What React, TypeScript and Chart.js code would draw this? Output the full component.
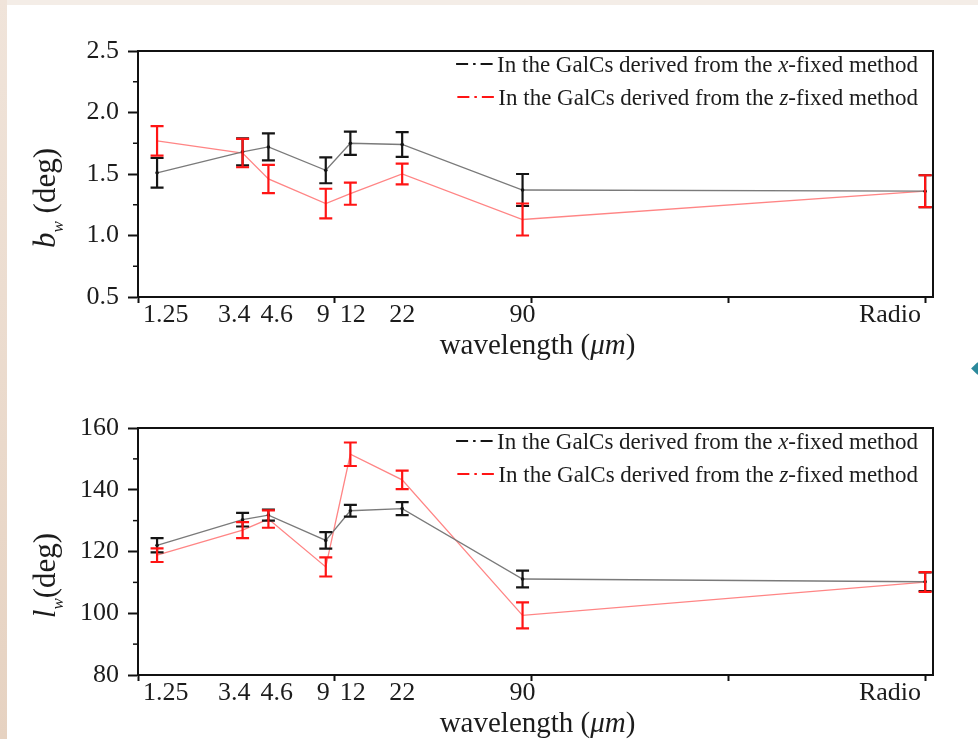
import React, { useEffect, useRef } from "react";
import { Chart, registerables } from "chart.js";

Chart.register(...registerables);

// ---------------- data ----------------
const wavelengthLabels = ["1.25", "3.4", "4.6", "9", "12", "22", "90", "Radio"];
const wavelengthsUm = [1.25, 3.4, 4.6, 9, 12, 22, 90];
const radioLogPosition = 4; // Radio placed at log10(λ/μm) = 4
const xMajorTicks = [0, 1, 2, 3, 4];
const xAxisMax = 4.04;

// b_w panel
const bwTicks = [0.5, 1.0, 1.5, 2.0, 2.5];
const bwXFixed = [1.51, 1.68, 1.72, 1.53, 1.75, 1.74, 1.37, 1.36];
const bwXFixedErr = [0.12, 0.11, 0.11, 0.105, 0.095, 0.1, 0.13, 0.13];
const bwZFixed = [1.77, 1.67, 1.46, 1.26, 1.34, 1.5, 1.13, 1.36];
const bwZFixedErr = [0.12, 0.115, 0.115, 0.12, 0.09, 0.085, 0.13, 0.13];

// l_w panel
const lwTicks = [80, 100, 120, 140, 160];
const lwXFixed = [122.0, 130.3, 131.8, 123.6, 133.2, 133.9, 111.1, 110.2];
const lwXFixedErr = [2.3, 2.2, 1.8, 2.7, 1.9, 2.1, 2.7, 3.0];
const lwZFixed = [118.8, 126.9, 130.5, 115.0, 151.5, 143.2, 99.3, 110.1];
const lwZFixedErr = [2.2, 2.6, 2.8, 3.1, 3.8, 3.0, 4.2, 3.2];

const legendXFixed = ["In the GalCs derived from the ", "x", "-fixed method"];
const legendZFixed = ["In the GalCs derived from the ", "z", "-fixed method"];

// ---------------- styling ----------------
const SERIF = "'Liberation Serif', 'Times New Roman', serif";
const TEXT = "#1c1c1c";
const AXIS = "#111111";
const W = 978;
const PLOT_LEFT = 138;
const PLOT_RIGHT = 933;

type Run = { text: string; italic?: boolean; size: number; dy?: number };

function fontOf(r: Run) {
  return `${r.italic ? "italic " : ""}${r.size}px ${SERIF}`;
}
function runsWidth(ctx: CanvasRenderingContext2D, runs: Run[]) {
  let w = 0;
  for (const r of runs) {
    ctx.font = fontOf(r);
    w += ctx.measureText(r.text).width;
  }
  return w;
}
function drawRuns(ctx: CanvasRenderingContext2D, runs: Run[], x: number, y: number) {
  let cx = x;
  ctx.textAlign = "left";
  ctx.textBaseline = "alphabetic";
  for (const r of runs) {
    ctx.font = fontOf(r);
    ctx.fillText(r.text, cx, y + (r.dy || 0));
    cx += ctx.measureText(r.text).width;
  }
}

type Series = {
  values: number[];
  errors: number[];
  lineColor: string;
  barColor: string;
  pointRadius: number;
  legend: string[];
};

type Spec = {
  yTicks: number[];
  yFormat: (v: number) => string;
  series: Series[];
  yTitle: Run[];
  plotTop: number;
  plotBottom: number;
  canvasHeight: number;
};

const xPositions = [...wavelengthsUm.map((w) => Math.log10(w)), radioLogPosition];

function decorPlugin(spec: Spec) {
  return {
    id: "decor",
    afterDatasetsDraw(chart: any) {
      const ctx: CanvasRenderingContext2D = chart.ctx;
      const ys = chart.scales.y;
      spec.series.forEach((s, di) => {
        const meta = chart.getDatasetMeta(di);
        ctx.save();
        ctx.strokeStyle = s.barColor;
        ctx.lineWidth = 2.2;
        meta.data.forEach((pt: any, i: number) => {
          const v = s.values[i];
          const e = s.errors[i];
          const yt = ys.getPixelForValue(v + e);
          const yb = ys.getPixelForValue(v - e);
          const x = pt.x;
          ctx.beginPath();
          ctx.moveTo(x, yt);
          ctx.lineTo(x, yb);
          ctx.moveTo(x - 6.5, yt);
          ctx.lineTo(x + 6.5, yt);
          ctx.moveTo(x - 6.5, yb);
          ctx.lineTo(x + 6.5, yb);
          ctx.stroke();
        });
        ctx.restore();
      });
    },
    afterDraw(chart: any) {
      const ctx: CanvasRenderingContext2D = chart.ctx;
      const ca = chart.chartArea;
      const xs = chart.scales.x;
      const ys = chart.scales.y;
      ctx.save();
      // frame
      ctx.strokeStyle = AXIS;
      ctx.lineWidth = 2;
      ctx.strokeRect(ca.left, ca.top, ca.right - ca.left, ca.bottom - ca.top);
      // minor y ticks
      ctx.lineWidth = 1.5;
      for (let i = 0; i < spec.yTicks.length - 1; i++) {
        const m = (spec.yTicks[i] + spec.yTicks[i + 1]) / 2;
        const py = ys.getPixelForValue(m);
        ctx.beginPath();
        ctx.moveTo(ca.left - 5, py);
        ctx.lineTo(ca.left, py);
        ctx.stroke();
      }
      // x tick labels (centered on the points, pushed apart when they collide)
      ctx.fillStyle = TEXT;
      ctx.font = `26px ${SERIF}`;
      const items = wavelengthLabels.map((lab, i) => {
        const w = ctx.measureText(lab).width;
        return { lab, w, c: xs.getPixelForValue(xPositions[i]) };
      });
      const gap = 10;
      for (let iter = 0; iter < 5; iter++) {
        for (let i = 0; i < items.length - 1; i++) {
          const a = items[i], b = items[i + 1];
          const need = (a.w + b.w) / 2 + gap;
          const d = b.c - a.c;
          if (d < need) {
            const push = (need - d) / 2;
            a.c -= push;
            b.c += push;
          }
        }
      }
      items.forEach((it) => {
        let lx = it.c - it.w / 2;
        if (lx < ca.left + 5) lx = ca.left + 5;
        if (lx + it.w > ca.right - 12) lx = ca.right - 12 - it.w;
        ctx.textAlign = "left";
        ctx.textBaseline = "alphabetic";
        ctx.fillText(it.lab, lx, ca.bottom + 25);
      });
      // x title
      const xTitle: Run[] = [
        { text: "wavelength (", size: 29 },
        { text: "μm", size: 29, italic: true },
        { text: ")", size: 29 },
      ];
      const wx = runsWidth(ctx, xTitle);
      drawRuns(ctx, xTitle, (ca.left + ca.right) / 2 - wx / 2 + 2, ca.bottom + 57);
      // y title
      ctx.save();
      ctx.translate(55, (ca.top + ca.bottom) / 2 + 24);
      ctx.rotate(-Math.PI / 2);
      const wy = runsWidth(ctx, spec.yTitle);
      drawRuns(ctx, spec.yTitle, -wy / 2, 0);
      ctx.restore();
      // legend
      spec.series.forEach((s, i) => {
        const rowY = ca.top + 13 + i * 33;
        const runs: Run[] = [
          { text: s.legend[0], size: 23 },
          { text: s.legend[1], size: 23, italic: true },
          { text: s.legend[2], size: 23 },
        ];
        const w = runsWidth(ctx, runs);
        const tx = ca.right - 15 - w;
        ctx.fillStyle = TEXT;
        drawRuns(ctx, runs, tx, rowY + 8);
        ctx.strokeStyle = s.barColor;
        ctx.lineWidth = 2;
        ctx.setLineDash([12, 5, 2.5, 5]);
        ctx.beginPath();
        ctx.moveTo(tx - 41, rowY);
        ctx.lineTo(tx - 4, rowY);
        ctx.stroke();
        ctx.setLineDash([]);
      });
      ctx.restore();
    },
  };
}

function buildConfig(spec: Spec): any {
  return {
    type: "line",
    data: {
      datasets: spec.series.map((s) => ({
        data: xPositions.map((x, i) => ({ x, y: s.values[i] })),
        borderColor: s.lineColor,
        borderWidth: 1.3,
        pointRadius: s.pointRadius,
        pointBackgroundColor: s.barColor,
        pointBorderWidth: 0,
        tension: 0,
        fill: false,
      })),
    },
    options: {
      responsive: false,
      animation: false,
      events: [],
      layout: { padding: { left: 0, top: spec.plotTop, right: W - PLOT_RIGHT, bottom: 0 } },
      plugins: { legend: { display: false }, tooltip: { enabled: false } },
      scales: {
        x: {
          type: "linear",
          min: 0,
          max: xAxisMax,
          afterBuildTicks: (s: any) => {
            s.ticks = xMajorTicks.map((v) => ({ value: v }));
          },
          afterFit: (s: any) => {
            s.height = spec.canvasHeight - spec.plotBottom;
          },
          ticks: { display: false },
          grid: { drawOnChartArea: false, drawTicks: true, tickLength: 6, tickWidth: 2, tickColor: AXIS },
          border: { display: true, color: AXIS, width: 2 },
        },
        y: {
          type: "linear",
          min: spec.yTicks[0],
          max: spec.yTicks[spec.yTicks.length - 1],
          afterBuildTicks: (s: any) => {
            s.ticks = spec.yTicks.map((v) => ({ value: v }));
          },
          afterFit: (s: any) => {
            s.width = PLOT_LEFT;
          },
          ticks: {
            font: { family: SERIF, size: 26 },
            color: TEXT,
            padding: 9,
            callback: (v: number) => spec.yFormat(v),
          },
          grid: { drawOnChartArea: false, tickLength: 10, tickWidth: 2, tickColor: AXIS },
          border: { display: true, color: AXIS, width: 2 },
        },
      },
    },
    plugins: [decorPlugin(spec)],
  };
}

function Panel({ spec, top }: { spec: Spec; top: number }) {
  const ref = useRef<HTMLCanvasElement>(null);
  useEffect(() => {
    const chart = new Chart(ref.current as HTMLCanvasElement, buildConfig(spec));
    return () => chart.destroy();
  }, []);
  return (
    <canvas
      ref={ref}
      width={W}
      height={spec.canvasHeight}
      style={{ position: "absolute", left: 0, top, width: W, height: spec.canvasHeight }}
    />
  );
}

const blackSeries = (values: number[], errors: number[]): Series => ({
  values,
  errors,
  lineColor: "#7a7a7a",
  barColor: "#151515",
  pointRadius: 1.8,
  legend: legendXFixed,
});
const redSeries = (values: number[], errors: number[]): Series => ({
  values,
  errors,
  lineColor: "#ff8585",
  barColor: "#ff1414",
  pointRadius: 0,
  legend: legendZFixed,
});

const bwSpec: Spec = {
  yTicks: bwTicks,
  yFormat: (v) => v.toFixed(1),
  series: [blackSeries(bwXFixed, bwXFixedErr), redSeries(bwZFixed, bwZFixedErr)],
  yTitle: [
    { text: "b", size: 31, italic: true },
    { text: "w", size: 17, italic: true, dy: 8 },
    { text: " (deg)", size: 31 },
  ],
  plotTop: 51,
  plotBottom: 297,
  canvasHeight: 370,
};

const lwSpec: Spec = {
  yTicks: lwTicks,
  yFormat: (v) => String(v),
  series: [blackSeries(lwXFixed, lwXFixedErr), redSeries(lwZFixed, lwZFixedErr)],
  yTitle: [
    { text: "l", size: 31, italic: true },
    { text: "w", size: 17, italic: true, dy: 8 },
    { text: "(deg)", size: 31 },
  ],
  plotTop: 58,
  plotBottom: 305,
  canvasHeight: 369,
};

export default function App() {
  return (
    <div
      style={{
        position: "fixed",
        left: 0,
        top: 0,
        width: W,
        height: 739,
        background: "#ffffff",
        overflow: "hidden",
      }}
    >
      <Panel spec={bwSpec} top={0} />
      <Panel spec={lwSpec} top={370} />
      <div style={{ position: "absolute", left: 0, top: 0, width: W, height: 5, background: "#f4ede7" }} />
      <div
        style={{
          position: "absolute",
          left: 0,
          top: 0,
          width: 7,
          height: 739,
          background: "linear-gradient(#f0e4da, #e6d2c1)",
        }}
      />
      <div
        style={{
          position: "absolute",
          left: 973,
          top: 364,
          width: 9,
          height: 9,
          background: "#2b8a9c",
          transform: "rotate(45deg)",
        }}
      />
    </div>
  );
}
